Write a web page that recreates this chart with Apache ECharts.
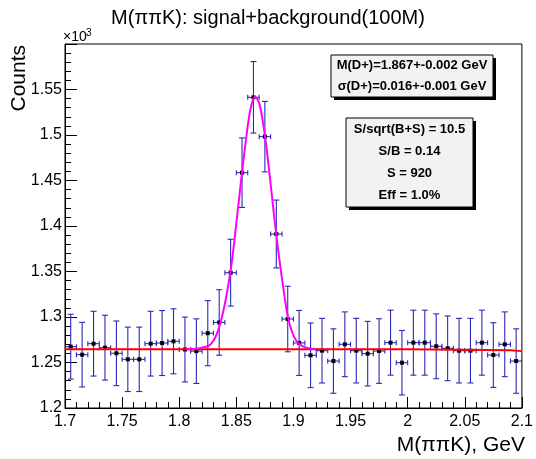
<!DOCTYPE html>
<html><head><meta charset="utf-8">
<script src="https://cdn.jsdelivr.net/npm/echarts@6/dist/echarts.min.js"></script>
<style>html,body{margin:0;padding:0;background:#fff}#c{width:536px;height:459px}</style>
</head><body><div id="c"></div><script>
// ---- data (values in units of 10^3 counts) ----
const binCenters = [1.705,1.715,1.725,1.735,1.745,1.755,1.765,1.775,1.785,1.795,
  1.805,1.815,1.825,1.835,1.845,1.855,1.865,1.875,1.885,1.895,
  1.905,1.915,1.925,1.935,1.945,1.955,1.965,1.975,1.985,1.995,
  2.005,2.015,2.025,2.035,2.045,2.055,2.065,2.075,2.085,2.095];
const counts = [1.2674,1.2586,1.2707,1.2663,1.2601,1.2535,1.2535,1.2707,1.2714,1.2733,
  1.2643,1.2625,1.2822,1.2940,1.3487,1.4586,1.5414,1.4982,1.3912,1.2978,
  1.2715,1.2579,1.2630,1.2516,1.2700,1.2630,1.2597,1.2626,1.2718,1.2498,
  1.2718,1.2718,1.2678,1.2656,1.2630,1.2630,1.2718,1.2582,1.2700,1.2516];
const countErrors = [0.0356,0.0355,0.0356,0.0356,0.0355,0.0354,0.0354,0.0356,0.0357,0.0357,
  0.0356,0.0355,0.0358,0.0360,0.0367,0.0382,0.0393,0.0387,0.0373,0.0360,
  0.0357,0.0355,0.0355,0.0354,0.0356,0.0355,0.0355,0.0355,0.0357,0.0354,
  0.0357,0.0357,0.0356,0.0356,0.0355,0.0355,0.0357,0.0355,0.0356,0.0354];
const binHalfWidth = 0.005;
const fitX = [1.806,1.812,1.818,1.822,1.826,1.830,1.834,1.838,1.842,1.846,1.850,1.854,1.857,1.860,1.863,1.8665,
  1.870,1.873,1.876,1.879,1.883,1.887,1.891,1.895,1.899,1.903,1.907,1.912,1.919];
const fitY = [1.2645,1.2648,1.2658,1.2670,1.2685,1.2740,1.2850,1.3030,1.3280,1.3600,1.4030,1.4480,1.4800,1.5100,1.5320,1.5420,
  1.5350,1.5160,1.4900,1.4580,1.4120,1.3700,1.3330,1.3010,1.2830,1.2730,1.2685,1.2660,1.2648];
const bkgX = [1.7, 2.0, 2.0, 2.09, 2.09, 2.1];
const bkgY = [1.2645, 1.2645, 1.2635, 1.2635, 1.2625, 1.2625];
const xMin = 1.7, xMax = 2.1, xStep = 0.05;
const yMin = 1.2, yMax = 1.6, yStep = 0.05;
const titleText = 'M(\u03c0\u03c0K): signal+background(100M)';
const xTitle = 'M(\u03c0\u03c0K), GeV';
const yTitle = 'Counts';
const box1Lines = ['M(D+)=1.867+-0.002 GeV', '\u03c3(D+)=0.016+-0.001 GeV'];
const box2Lines = ['S/sqrt(B+S) = 10.5', 'S/B = 0.14', 'S = 920', 'Eff = 1.0%'];

const FONT = '"Liberation Sans", Arial, Helvetica, sans-serif';
const errData = binCenters.map((x, i) => [x, counts[i], countErrors[i], binHalfWidth]);
const fitData = fitX.map((x, i) => [x, fitY[i]]);
const bkgData = bkgX.map((x, i) => [x, bkgY[i]]);

function fmt(v){ return String(+v.toFixed(3)); }

function pave(x, y, w, h, lines){
  const children = [
    {type:'rect', shape:{x:x+3, y:y+3, width:w, height:h}, style:{fill:'#000'}},
    {type:'rect', shape:{x:x, y:y, width:w, height:h}, style:{fill:'#f2f2f2', stroke:'#000', lineWidth:1}}
  ];
  lines.forEach((t, i) => {
    children.push({type:'text', x: x + w/2, y: y + h*(i+0.5)/lines.length,
      style:{text:t, fill:'#000', font:'bold 13px ' + FONT, align:'center', verticalAlign:'middle', textAlign:'center', textVerticalAlign:'middle'}});
  });
  return {type:'group', children, z:100};
}

const chart = echarts.init(document.getElementById('c'), null, {renderer:'canvas'});
chart.setOption({
  animation:false,
  backgroundColor:'#fff',
  title:{text:titleText, left:'center', top:3, textStyle:{fontSize:20, fontWeight:'normal', color:'#000', fontFamily:FONT}},
  grid:{left:65, right:11, top:44, bottom:51, show:true, borderColor:'#000', borderWidth:1, backgroundColor:'transparent'},
  xAxis:{type:'value', min:xMin, max:xMax, interval:xStep,
    axisLine:{show:true, lineStyle:{color:'#000', width:1}},
    axisTick:{show:true, inside:true, length:11, lineStyle:{color:'#000'}},
    minorTick:{show:true, splitNumber:5, length:6, lineStyle:{color:'#000'}},
    splitLine:{show:false}, minorSplitLine:{show:false},
    axisLabel:{margin:6, fontSize:16, color:'#000', fontFamily:FONT, formatter:fmt}},
  yAxis:{type:'value', min:yMin, max:yMax, interval:yStep,
    axisLine:{show:true, lineStyle:{color:'#000', width:1}},
    axisTick:{show:true, inside:true, length:12, lineStyle:{color:'#000'}},
    minorTick:{show:true, splitNumber:5, length:6, lineStyle:{color:'#000'}},
    splitLine:{show:false}, minorSplitLine:{show:false},
    axisLabel:{margin:3, fontSize:16, color:'#000', fontFamily:FONT, showMaxLabel:false,
      formatter: v => Math.abs(v - yMax) < 1e-9 ? '' : fmt(v)}},
  graphic:[
    {type:'text', x:9, y:45, rotation:Math.PI/2,
      style:{text:yTitle, fill:'#000', font:'21px ' + FONT, align:'right', verticalAlign:'top', textAlign:'right', textVerticalAlign:'top'}},
    {type:'text', x:525, y:456,
      style:{text:xTitle, fill:'#000', font:'21px ' + FONT, align:'right', verticalAlign:'bottom', textAlign:'right', textVerticalAlign:'bottom'}},
    {type:'text', x:63, y:44,
      style:{text:'\u00d710', fill:'#000', font:'14px ' + FONT, align:'left', verticalAlign:'bottom', textAlign:'left', textVerticalAlign:'bottom'}},
    {type:'text', x:86, y:28,
      style:{text:'3', fill:'#000', font:'10px ' + FONT, align:'left', verticalAlign:'top', textAlign:'left', textVerticalAlign:'top'}},
    pave(331, 55, 162, 42, box1Lines),
    pave(346, 118, 127, 89, box2Lines)
  ],
  series:[
    {type:'custom', data:errData, clip:true, z:2,
      renderItem:(params, api) => {
        const x = api.value(0), y = api.value(1), e = api.value(2), hw = api.value(3);
        const c = api.coord([x, y]);
        const t = api.coord([x, y + e]);
        const b = api.coord([x, y - e]);
        const l = api.coord([x - hw, y]);
        const r = api.coord([x + hw, y]);
        const col = '#2a2ab8', cap = 3;
        const st = {stroke:col, lineWidth:1.1};
        return {type:'group', children:[
          {type:'line', shape:{x1:c[0], y1:t[1], x2:c[0], y2:b[1]}, style:st},
          {type:'line', shape:{x1:c[0]-cap, y1:t[1], x2:c[0]+cap, y2:t[1]}, style:st},
          {type:'line', shape:{x1:c[0]-cap, y1:b[1], x2:c[0]+cap, y2:b[1]}, style:st},
          {type:'line', shape:{x1:l[0], y1:c[1], x2:r[0], y2:c[1]}, style:st},
          {type:'line', shape:{x1:l[0], y1:c[1]-2.5, x2:l[0], y2:c[1]+2.5}, style:st},
          {type:'line', shape:{x1:r[0], y1:c[1]-2.5, x2:r[0], y2:c[1]+2.5}, style:st},
          {type:'rect', shape:{x:c[0]-2, y:c[1]-2, width:4, height:4}, style:{fill:'#000'}}
        ]};
      }},
    {type:'line', data:bkgData, showSymbol:false, symbol:'none', z:3,
      lineStyle:{color:'#ff0000', width:2}},
    {type:'line', data:fitData, showSymbol:false, symbol:'none', smooth:0.3, z:4,
      lineStyle:{color:'#ff00ff', width:2}}
  ]
});
</script></body></html>
